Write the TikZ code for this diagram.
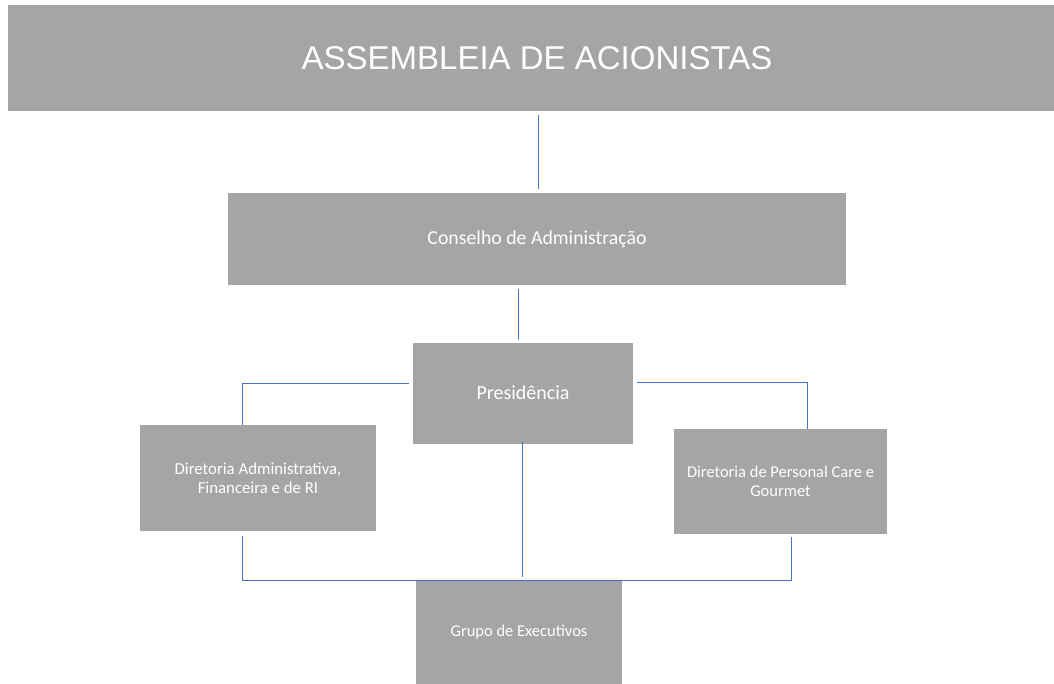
\documentclass[tikz,border=0pt]{standalone}
\usepackage{fontspec}
\setmainfont{Carlito}
\newfontfamily\titlefont{Liberation Sans}
\definecolor{boxgray}{HTML}{A5A5A5}
\definecolor{linkblue}{HTML}{4472C4}
\begin{document}
\begin{tikzpicture}[x=1pt,y=-1pt,
  orgbox/.style={fill=boxgray, draw=none, text=white, align=center, inner sep=0pt},
  conn/.style={draw=linkblue, line width=0.9pt}]
\useasboundingbox (0,0) rectangle (1054,684);
\node[orgbox, minimum width=1046pt, minimum height=106pt,
      font=\titlefont\fontsize{33}{38}\selectfont] (assembleia) at (531,58)
      {\hspace*{12pt}ASSEMBLEIA DE ACIONISTAS};
\node[orgbox, minimum width=618pt, minimum height=92pt,
      font=\fontsize{19.8}{23}\selectfont] (cons) at (537,239)
      {Conselho de Administração};
\node[orgbox, minimum width=220pt, minimum height=101pt,
      font=\fontsize{20}{24}\selectfont] (pres) at (523,393)
      {Presidência};
\node[orgbox, minimum width=236pt, minimum height=106pt,
      font=\fontsize{16.8}{19.5}\selectfont] (admin) at (258,478)
      {Diretoria Administrativa,\\Financeira e de RI};
\node[orgbox, minimum width=213pt, minimum height=105pt,
      font=\fontsize{16.5}{19.5}\selectfont] (pers) at (780.5,481.5)
      {Diretoria de Personal Care e\\Gourmet};
\node[orgbox, minimum width=206pt, minimum height=103pt,
      font=\fontsize{16.5}{19.5}\selectfont] (grupo) at (519,632.5)
      {\raisebox{-3pt}{Grupo de Executivos}};
% connectors
\draw[conn] ([shift={(7,4)}]assembleia.south) -- ([shift={(1,-4)}]cons.north);
\draw[conn] ([shift={(-19,4)}]cons.south) -- ([shift={(-5,-2)}]pres.north);
\draw[conn] ([shift={(-4,-10)}]pres.west) -| ([xshift=-16pt]admin.north);
\draw[conn] ([shift={(4,-11)}]pres.east) -| ([xshift=26.5pt]pers.north);
\draw[conn] ([shift={(-1,-2)}]pres.south) -- ([shift={(3,-4)}]grupo.north);
\coordinate (busL) at (242,580);
\coordinate (busR) at (791,580);
\draw[conn] ([shift={(-16,5)}]admin.south) -- (busL) -- (busR) -- ([shift={(10.5,3)}]pers.south);
\end{tikzpicture}
\end{document}
